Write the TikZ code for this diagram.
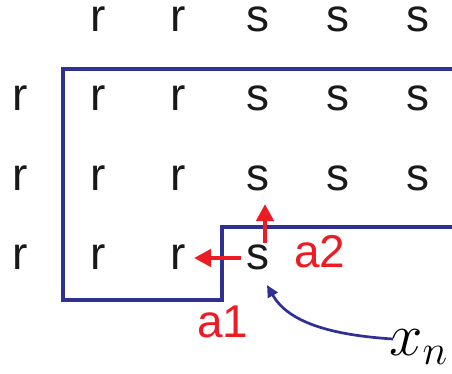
\RequirePackage{fix-cm}
\documentclass[tikz,border=0pt]{standalone}
\usepackage{fontspec}
\setmainfont{Liberation Sans}
\usetikzlibrary{arrows.meta}
\definecolor{lblue}{RGB}{46,49,146}
\definecolor{lred}{RGB}{237,28,36}
\DeclareMathSizes{60}{60}{42}{30}
\tikzset{
  letter/.style={inner sep=0pt, anchor=base, font=\fontsize{46}{48}\selectfont, text=black!90},
  redlabel/.style={inner sep=0pt, anchor=base, font=\fontsize{46}{48}\selectfont, text=lred},
  boundary/.style={draw=lblue, line width=4pt, line join=miter},
  movearrow/.style={draw=lred, line width=4.5pt, -{Triangle[length=17pt,width=17pt]}},
  curvearrow/.style={draw=lblue, line width=2.7pt, -{Triangle[length=12pt,width=11pt]}}
}
\begin{document}
\begin{tikzpicture}[x=1pt,y=-1pt]
\useasboundingbox (0,0) rectangle (452,374);
% row 0
\node[letter] (r0c1) at (98,32) {r};
\node[letter] (r0c2) at (178,32) {r};
\node[letter] (r0c3) at (258,32) {s};
\node[letter] (r0c4) at (338,32) {s};
\node[letter] (r0c5) at (418,32) {s};
% row 1
\node[letter] (r1c0) at (20,111) {r};
\node[letter] (r1c1) at (98,111) {r};
\node[letter] (r1c2) at (178,111) {r};
\node[letter] (r1c3) at (258,111) {s};
\node[letter] (r1c4) at (338,111) {s};
\node[letter] (r1c5) at (418,111) {s};
% row 2
\node[letter] (r2c0) at (20,190) {r};
\node[letter] (r2c1) at (98,190) {r};
\node[letter] (r2c2) at (178,190) {r};
\node[letter] (r2c3) at (258,190) {s};
\node[letter] (r2c4) at (338,190) {s};
\node[letter] (r2c5) at (418,190) {s};
% row 3
\node[letter] (r3c0) at (20,269) {r};
\node[letter] (r3c1) at (98,269) {r};
\node[letter] (r3c2) at (178,269) {r};
\node[letter] (r3c3) at (258,269) {s};
% boundary
\draw[boundary] (452,69) -- (63,69) -- (63,300) -- (222,300) -- (222,227) -- (452,227);
% red arrows
\coordinate (a1s) at (241,258);
\coordinate (a1e) at (194,258);
\coordinate (a2s) at (265,243);
\coordinate (a2e) at (265,204);
\draw[movearrow] (a1s) -- (a1e);
\draw[movearrow] (a2s) -- (a2e);
\node[redlabel] (a1) at (223,337) {a1};
\node[redlabel] (a2) at (320,267) {a2};
% x_n
\node[inner sep=0pt, anchor=base west, font=\fontsize{60}{62}\selectfont] (xn) at (389,355) {$x_n$};
\coordinate (xs) at (393,339);
\coordinate (xt) at (267,285);
\draw[curvearrow] (xs) .. controls (330,335) and (288,322) .. (xt);
\end{tikzpicture}
\end{document}
